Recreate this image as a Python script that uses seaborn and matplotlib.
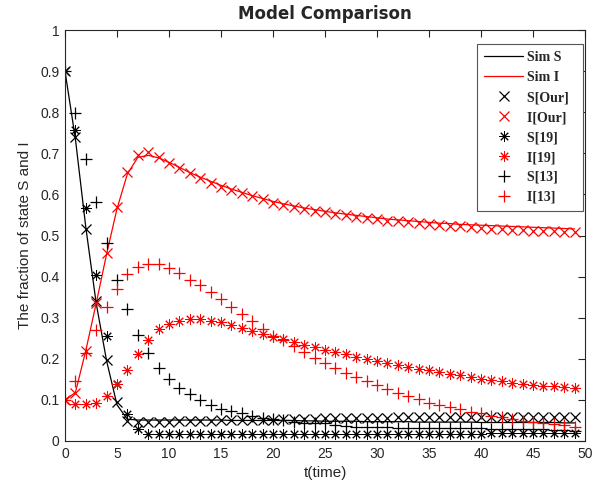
import numpy as np
import pandas as pd
import matplotlib
matplotlib.use("Agg")
import matplotlib.pyplot as plt
import seaborn as sns

t = list(range(50))

sim_s = [0.900, 0.735, 0.520, 0.335, 0.195, 0.088, 0.053, 0.051, 0.051, 0.051,
         0.051, 0.051, 0.051, 0.051, 0.051, 0.051, 0.050, 0.050, 0.050, 0.050,
         0.050, 0.050, 0.050, 0.049, 0.049, 0.048, 0.048, 0.048, 0.048, 0.047,
         0.047, 0.047, 0.047, 0.047, 0.046, 0.046, 0.046, 0.046, 0.046, 0.046,
         0.045, 0.045, 0.045, 0.045, 0.045, 0.045, 0.045, 0.045, 0.044, 0.044]

sim_i = [0.100, 0.118, 0.220, 0.335, 0.455, 0.565, 0.650, 0.690, 0.695, 0.689,
         0.678, 0.666, 0.653, 0.642, 0.632, 0.622, 0.613, 0.605, 0.597, 0.590,
         0.583, 0.577, 0.572, 0.567, 0.563, 0.559, 0.555, 0.552, 0.549, 0.546,
         0.543, 0.540, 0.538, 0.536, 0.534, 0.532, 0.530, 0.529, 0.527, 0.526,
         0.525, 0.524, 0.523, 0.522, 0.521, 0.520, 0.519, 0.518, 0.517, 0.516]

s_our = [0.900, 0.740, 0.516, 0.341, 0.197, 0.096, 0.049, 0.046, 0.046, 0.047,
         0.047, 0.048, 0.048, 0.049, 0.049, 0.050, 0.050, 0.051, 0.051, 0.052,
         0.052, 0.053, 0.053, 0.054, 0.054, 0.055, 0.055, 0.056, 0.056, 0.057,
         0.057, 0.057, 0.058, 0.058, 0.058, 0.058, 0.058, 0.058, 0.058, 0.058,
         0.058, 0.058, 0.058, 0.058, 0.058, 0.058, 0.058, 0.058, 0.058, 0.058]

i_our = [0.100, 0.116, 0.220, 0.336, 0.458, 0.570, 0.655, 0.697, 0.702, 0.692,
         0.677, 0.665, 0.651, 0.639, 0.628, 0.619, 0.611, 0.603, 0.595, 0.588,
         0.580, 0.574, 0.569, 0.565, 0.560, 0.556, 0.553, 0.550, 0.546, 0.542,
         0.539, 0.536, 0.535, 0.533, 0.531, 0.528, 0.526, 0.524, 0.522, 0.520,
         0.518, 0.517, 0.515, 0.514, 0.513, 0.512, 0.511, 0.510, 0.509, 0.508]

s_19 = [0.900, 0.757, 0.568, 0.404, 0.256, 0.139, 0.066, 0.030, 0.018, 0.017,
        0.017, 0.017, 0.017, 0.017, 0.017, 0.017, 0.017, 0.017, 0.017, 0.017,
        0.017, 0.017, 0.017, 0.017, 0.017, 0.017, 0.017, 0.017, 0.017, 0.017,
        0.017, 0.018, 0.018, 0.018, 0.018, 0.018, 0.018, 0.018, 0.018, 0.018,
        0.018, 0.019, 0.019, 0.019, 0.019, 0.019, 0.019, 0.019, 0.019, 0.019]

i_19 = [0.100, 0.090, 0.090, 0.093, 0.109, 0.139, 0.173, 0.212, 0.246, 0.272,
        0.284, 0.293, 0.296, 0.296, 0.293, 0.290, 0.283, 0.275, 0.267, 0.260,
        0.254, 0.247, 0.240, 0.234, 0.228, 0.221, 0.216, 0.211, 0.205, 0.200,
        0.195, 0.190, 0.185, 0.179, 0.175, 0.172, 0.168, 0.164, 0.160, 0.156,
        0.152, 0.149, 0.146, 0.142, 0.139, 0.137, 0.135, 0.133, 0.131, 0.128]

s_13 = [0.900, 0.797, 0.685, 0.582, 0.482, 0.392, 0.320, 0.257, 0.213, 0.178,
        0.152, 0.130, 0.114, 0.100, 0.088, 0.078, 0.073, 0.068, 0.062, 0.057,
        0.053, 0.050, 0.047, 0.045, 0.044, 0.043, 0.040, 0.037, 0.035, 0.033,
        0.033, 0.033, 0.032, 0.032, 0.032, 0.032, 0.032, 0.031, 0.031, 0.031,
        0.031, 0.030, 0.030, 0.029, 0.029, 0.028, 0.028, 0.027, 0.026, 0.025]

i_13 = [0.100, 0.147, 0.215, 0.270, 0.325, 0.369, 0.406, 0.423, 0.430, 0.430,
        0.421, 0.408, 0.392, 0.379, 0.362, 0.345, 0.327, 0.309, 0.293, 0.273,
        0.256, 0.245, 0.231, 0.216, 0.201, 0.189, 0.178, 0.166, 0.156, 0.146,
        0.136, 0.126, 0.118, 0.110, 0.102, 0.093, 0.088, 0.082, 0.077, 0.071,
        0.067, 0.062, 0.058, 0.053, 0.049, 0.047, 0.045, 0.041, 0.039, 0.035]

x_ticks = [0, 5, 10, 15, 20, 25, 30, 35, 40, 45, 50]
y_ticks = [0, 0.1, 0.2, 0.3, 0.4, 0.5, 0.6, 0.7, 0.8, 0.9, 1]
y_ticklabels = ["0", "0.1", "0.2", "0.3", "0.4", "0.5", "0.6", "0.7", "0.8", "0.9", "1"]

sns.set_style("white")
plt.rcParams["font.family"] = ["Liberation Sans", "DejaVu Sans"]

fig = plt.figure(figsize=(6.03, 4.93), dpi=100)
ax = fig.add_axes([65 / 603, 52 / 493, 520 / 603, 411 / 493])

df = pd.DataFrame({"t": t, "sim_s": sim_s, "sim_i": sim_i, "s_our": s_our,
                   "i_our": i_our, "s_19": s_19, "i_19": i_19,
                   "s_13": s_13, "i_13": i_13})

sns.lineplot(data=df, x="t", y="sim_s", ax=ax, color="black", linewidth=0.9,
             label="Sim S  ", errorbar=None)
sns.lineplot(data=df, x="t", y="sim_i", ax=ax, color="#ff0000", linewidth=0.9,
             label="Sim I  ", errorbar=None)

ast = (8, 2, 0)
specs = [
    ("s_our", "S[Our]  ", "x", "black", 6.5, 0.9),
    ("i_our", "I[Our]  ", "x", "#ff0000", 6.5, 0.9),
    ("s_19", "S[19]  ", ast, "black", 7.5, 0.7),
    ("i_19", "I[19]  ", ast, "#ff0000", 7.5, 0.7),
    ("s_13", "S[13]  ", "+", "black", 8.0, 0.9),
    ("i_13", "I[13]  ", "+", "#ff0000", 8.0, 0.9),
]
for col, lab, mk, colr, ms, mew in specs:
    sns.lineplot(data=df, x="t", y=col, ax=ax, color=colr, linestyle="",
                 marker=mk, markersize=ms, markeredgewidth=mew,
                 markeredgecolor=colr, label=lab, errorbar=None)

ax.set_xlim(0, 50)
ax.set_ylim(0, 1)
ax.set_xticks(x_ticks)
ax.set_yticks(y_ticks)
ax.set_yticklabels(y_ticklabels)
ax.tick_params(direction="in", length=5, width=0.8, top=True, right=True,
               labelsize=10, colors="#262626", pad=4)
for sp in ax.spines.values():
    sp.set_color("#262626")
    sp.set_linewidth(0.8)

ax.set_title("Model Comparison", fontsize=12, fontweight="bold",
             family="DejaVu Sans", color="#262626", pad=8)
ax.set_xlabel("t(time)", fontsize=11, color="#262626", labelpad=4)
ax.set_ylabel("The fraction of state S and I", fontsize=11, color="#262626",
              labelpad=6)

leg = ax.legend(loc="upper right", bbox_to_anchor=(0.996, 0.965),
                prop={"family": "Liberation Serif", "weight": "bold", "size": 10},
                frameon=True, fancybox=False, framealpha=1, edgecolor="#555555",
                handlelength=2.8, handletextpad=0.3, labelspacing=0.5,
                borderpad=0.5, borderaxespad=0)
leg.get_frame().set_linewidth(0.8)

fig.savefig("out.png", dpi=100)
